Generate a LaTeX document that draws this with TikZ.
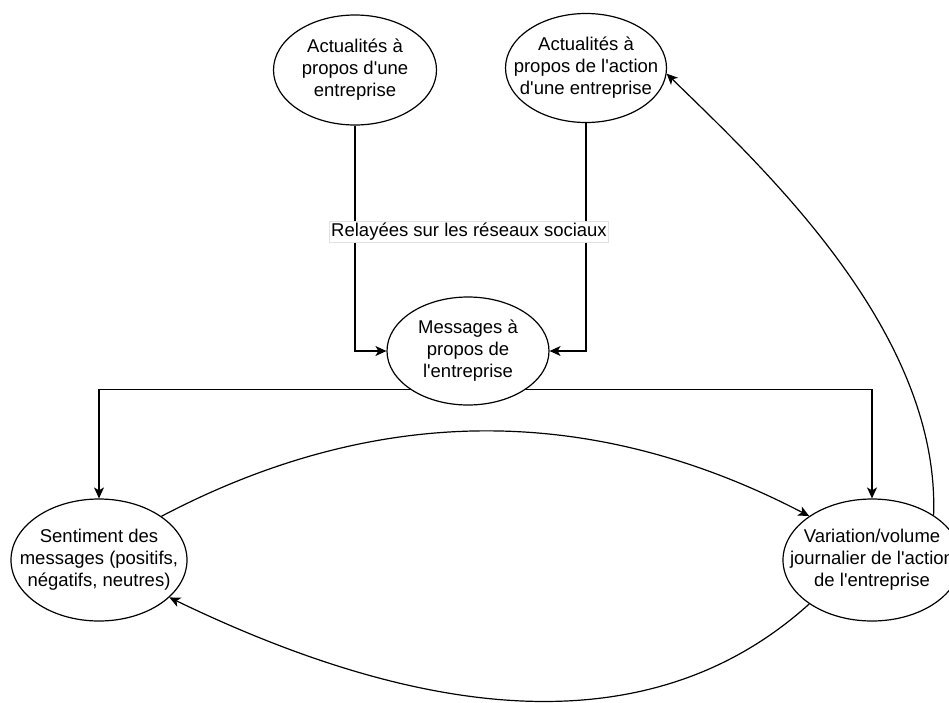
\documentclass[tikz,border=0pt]{standalone}
\usepackage{fontspec}
\setmainfont{Liberation Sans}
\usepackage{xcolor}
\usepackage{tikz}
\usetikzlibrary{shapes.geometric,arrows.meta,positioning}
\definecolor{ink}{HTML}{000000}
\definecolor{framegray}{HTML}{E2E2E2}
\newcommand{\apos}{\textquotesingle}

\begin{document}
\begin{tikzpicture}[
  x=1pt, y=-1pt,
  bubble/.style={ellipse, draw=ink, fill=white, line width=1.2pt,
    inner xsep=-30pt, inner ysep=0pt, align=center, text=ink,
    font=\fontsize{18.5}{22}\selectfont},
  arr/.style={-{Stealth[length=11pt,width=10pt,inset=3pt]}, line width=1.2pt, color=ink},
  lbl/.style={rectangle, fill=white, draw=framegray, line width=0.6pt,
    inner xsep=2pt, inner ysep=2pt, font=\fontsize{18.5}{22}\selectfont}
]
\useasboundingbox (0,0) rectangle (949,702);
\clip (0,0) rectangle (949,702);
\node[bubble, minimum width=163pt, minimum height=110pt] (news)      at (355,70)  {Actualités à\\propos d\apos une\\entreprise};
\node[bubble, minimum width=161pt, minimum height=109pt] (stocknews) at (586,68)  {Actualités à\\propos de l\apos action\\d\apos une entreprise};
\node[bubble, minimum width=162pt, minimum height=108pt] (msgs)      at (468,351) {Messages à\\propos de\\l\apos entreprise};
\node[bubble, minimum width=176pt, minimum height=122pt] (senti)     at (99,560)  {Sentiment des\\messages (positifs,\\négatifs, neutres)};
\node[bubble, minimum width=178pt, minimum height=122pt] (vari)      at (872,560) {Variation/volume\\journalier de l\apos action\\de l\apos entreprise};
\draw[arr] (news.south) |- (msgs.west);
\draw[arr] (stocknews.south) |- (msgs.east);
\draw[arr] (msgs.south west) -| (senti.north);
\draw[arr] (msgs.south east) -| (vari.north);
\draw[arr] (senti.35) .. controls (377,403) and (592,403) .. (vari.145);
\draw[arr] (vari.215) .. controls (663,736) and (450,733) .. (senti.-28);
\draw[arr] (vari.36) .. controls (940,330) and (760,165) .. (stocknews.-4);
\node[lbl] (relay) at (469,232) {Relayées sur les réseaux sociaux};
\end{tikzpicture}
\end{document}
